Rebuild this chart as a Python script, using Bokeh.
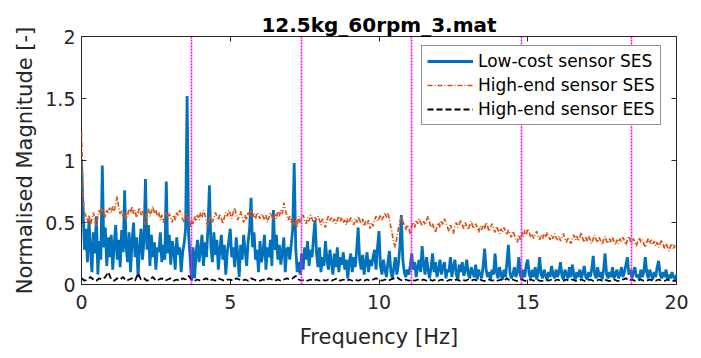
import numpy as np
from bokeh.plotting import figure
from bokeh.models import Range1d, LinearAxis, Legend, LegendItem, FixedTicker, Title
from bokeh.embed import file_html
from bokeh.resources import INLINE

# ---------------- data ----------------
title_text = "12.5kg_60rpm_3.mat"
x_label = "Frequency [Hz]"
y_label = "Normalised Magnitude [-]"
series_names = ["Low-cost sensor SES", "High-end sensor SES", "High-end sensor EES"]
x_ticks = [0, 5, 10, 15, 20]
y_ticks = [0, 0.5, 1, 1.5, 2]
y_tick_labels = {0: "0", 0.5: "0.5", 1: "1", 1.5: "1.5", 2: "2"}
harmonics = [3.695, 7.39, 11.085, 14.78, 18.475]

freq_fine = [i * 0.05 for i in range(401)]   # 0 .. 20 Hz, 0.05 Hz step
freq_coarse = [i * 0.1 for i in range(201)]  # 0 .. 20 Hz, 0.1 Hz step

low_cost_ses = [
    1.00, 0.62, 0.28, 0.45, 0.18, 0.52, 0.30, 0.10, 0.42, 0.25, 0.55, 0.08, 0.35, 0.20, 0.96, 0.30, 0.46, 0.15, 0.38, 0.22,
    0.40, 0.12, 0.33, 0.48, 0.20, 0.36, 0.14, 0.44, 0.26, 0.76, 0.30, 0.18, 0.42, 0.10, 0.35, 0.50, 0.22, 0.38, 0.06, 0.30,
    0.45, 0.20, 0.36, 0.85, 0.28, 0.48, 0.15, 0.40, 0.22, 0.34, 0.12, 0.30, 0.26, 0.42, 0.18, 0.32, 0.20, 0.83, 0.25, 0.40,
    0.16, 0.35, 0.28, 0.12, 0.38, 0.24, 0.30, 0.10, 0.26, 0.33, 0.45, 1.52, 0.40, 0.22, 0.03, 0.30, 0.05, 0.25, 0.36, 0.18,
    0.28, 0.40, 0.15, 0.34, 0.22, 0.45, 0.80, 0.30, 0.18, 0.42, 0.24, 0.36, 0.12, 0.28, 0.40, 0.20, 0.32, 0.08, 0.26, 0.35,
    0.45, 0.22, 0.30, 0.14, 0.38, 0.25, 0.06, 0.32, 0.20, 0.40, 0.28, 0.15, 0.34, 0.45, 0.70, 0.30, 0.42, 0.20, 0.28, 0.10,
    0.35, 0.18, 0.26, 0.40, 0.12, 0.30, 0.22, 0.36, 0.15, 0.60, 0.28, 0.40, 0.20, 0.32, 0.16, 0.26, 0.38, 0.10, 0.28, 0.30,
    0.20, 0.32, 0.45, 0.98, 0.30, 0.10, 0.18, 0.08, 0.25, 0.12, 0.30, 0.20, 0.35, 0.15, 0.28, 0.22, 0.38, 0.52, 0.25, 0.14,
    0.30, 0.10, 0.22, 0.15, 0.35, 0.20, 0.12, 0.28, 0.18, 0.08, 0.25, 0.14, 0.30, 0.10, 0.22, 0.16, 0.26, 0.12, 0.20, 0.05,
    0.18, 0.25, 0.10, 0.22, 0.14, 0.28, 0.46, 0.20, 0.12, 0.24, 0.08, 0.18, 0.26, 0.10, 0.20, 0.15, 0.22, 0.28, 0.12, 0.30,
    0.43, 0.15, 0.08, 0.20, 0.12, 0.06, 0.18, 0.27, 0.10, 0.05, 0.14, 0.22, 0.08, 0.16, 0.30, 0.56, 0.20, 0.10, 0.06, 0.12,
    0.08, 0.15, 0.25, 0.12, 0.18, 0.06, 0.14, 0.20, 0.10, 0.31, 0.16, 0.08, 0.22, 0.12, 0.05, 0.14, 0.25, 0.10, 0.18, 0.06,
    0.12, 0.20, 0.08, 0.15, 0.18, 0.05, 0.12, 0.10, 0.22, 0.06, 0.14, 0.20, 0.08, 0.04, 0.16, 0.10, 0.18, 0.07, 0.12, 0.20,
    0.08, 0.05, 0.14, 0.10, 0.06, 0.16, 0.04, 0.12, 0.08, 0.05, 0.15, 0.29, 0.12, 0.06, 0.10, 0.04, 0.12, 0.08, 0.25, 0.10,
    0.05, 0.14, 0.08, 0.04, 0.12, 0.06, 0.18, 0.32, 0.10, 0.05, 0.08, 0.14, 0.06, 0.10, 0.22, 0.08, 0.04, 0.12, 0.06, 0.16,
    0.20, 0.08, 0.05, 0.12, 0.06, 0.14, 0.04, 0.10, 0.22, 0.08, 0.05, 0.12, 0.07, 0.04, 0.10, 0.06, 0.15, 0.08, 0.05, 0.12,
    0.06, 0.10, 0.18, 0.07, 0.04, 0.12, 0.08, 0.05, 0.14, 0.06, 0.16, 0.08, 0.04, 0.10, 0.06, 0.12, 0.05, 0.09, 0.15, 0.06,
    0.04, 0.10, 0.06, 0.12, 0.23, 0.08, 0.05, 0.14, 0.06, 0.10, 0.04, 0.12, 0.25, 0.08, 0.05, 0.10, 0.06, 0.14, 0.05, 0.08,
    0.12, 0.05, 0.08, 0.14, 0.06, 0.10, 0.16, 0.22, 0.08, 0.12, 0.05, 0.10, 0.14, 0.06, 0.08, 0.04, 0.12, 0.06, 0.10, 0.22,
    0.10, 0.05, 0.12, 0.08, 0.04, 0.10, 0.06, 0.14, 0.19, 0.08, 0.05, 0.10, 0.06, 0.12, 0.04, 0.08, 0.05, 0.10, 0.06, 0.04,
    0.08,
]

high_end_ses = [
    1.23, 0.70, 0.58, 0.55, 0.50, 0.56, 0.48, 0.53, 0.58, 0.52, 0.47, 0.55, 0.60, 0.56, 0.62, 0.58, 0.54, 0.60, 0.57, 0.62,
    0.58, 0.63, 0.59, 0.65, 0.71, 0.62, 0.57, 0.60, 0.55, 0.58, 0.52, 0.56, 0.61, 0.58, 0.63, 0.57, 0.60, 0.54, 0.58, 0.62,
    0.56, 0.60, 0.54, 0.48, 0.57, 0.61, 0.55, 0.59, 0.63, 0.57, 0.60, 0.55, 0.58, 0.52, 0.56, 0.50, 0.55, 0.58, 0.53, 0.57,
    0.54, 0.50, 0.56, 0.52, 0.58, 0.55, 0.60, 0.57, 0.53, 0.50, 0.56, 0.58, 0.51, 0.47, 0.53, 0.49, 0.55, 0.51, 0.56, 0.52,
    0.58, 0.54, 0.60, 0.56, 0.50, 0.47, 0.53, 0.55, 0.50, 0.54, 0.58, 0.55, 0.52, 0.57, 0.53, 0.49, 0.54, 0.58, 0.55, 0.60,
    0.57, 0.53, 0.58, 0.62, 0.56, 0.52, 0.55, 0.59, 0.54, 0.50, 0.56, 0.52, 0.58, 0.55, 0.60, 0.54, 0.57, 0.53, 0.58, 0.56,
    0.53, 0.57, 0.55, 0.52, 0.56, 0.50, 0.54, 0.58, 0.55, 0.52, 0.57, 0.53, 0.59, 0.55, 0.60, 0.57, 0.66, 0.60, 0.56, 0.52,
    0.55, 0.50, 0.54, 0.48, 0.52, 0.46, 0.55, 0.50, 0.53, 0.56, 0.52, 0.49, 0.54, 0.51, 0.56, 0.53, 0.50, 0.54, 0.52, 0.55,
    0.52, 0.48, 0.53, 0.50, 0.46, 0.52, 0.55, 0.51, 0.54, 0.50, 0.53, 0.49, 0.52, 0.55, 0.51, 0.54, 0.50, 0.52, 0.48, 0.53,
    0.50, 0.54, 0.51, 0.48, 0.53, 0.50, 0.55, 0.52, 0.49, 0.53, 0.47, 0.51, 0.48, 0.52, 0.45, 0.50, 0.47, 0.52, 0.55, 0.51,
    0.53, 0.56, 0.52, 0.55, 0.58, 0.54, 0.58, 0.52, 0.46, 0.40, 0.33, 0.30, 0.38, 0.45, 0.50, 0.55, 0.51, 0.48, 0.44, 0.48,
    0.45, 0.41, 0.47, 0.50, 0.46, 0.52, 0.49, 0.53, 0.50, 0.47, 0.51, 0.48, 0.52, 0.55, 0.50, 0.46, 0.49, 0.45, 0.42, 0.47,
    0.50, 0.46, 0.51, 0.48, 0.53, 0.50, 0.46, 0.43, 0.48, 0.45, 0.41, 0.47, 0.50, 0.46, 0.49, 0.52, 0.48, 0.45, 0.50, 0.47,
    0.44, 0.48, 0.51, 0.47, 0.45, 0.49, 0.46, 0.42, 0.47, 0.44, 0.48, 0.45, 0.50, 0.47, 0.43, 0.46, 0.49, 0.45, 0.42, 0.47,
    0.44, 0.41, 0.45, 0.42, 0.46, 0.43, 0.40, 0.44, 0.41, 0.38, 0.43, 0.40, 0.37, 0.34, 0.40, 0.36, 0.42, 0.38, 0.44, 0.40,
    0.45, 0.42, 0.38, 0.41, 0.37, 0.40, 0.43, 0.39, 0.36, 0.40, 0.37, 0.41, 0.38, 0.42, 0.39, 0.36, 0.40, 0.37, 0.41, 0.38,
    0.36, 0.39, 0.35, 0.38, 0.41, 0.37, 0.34, 0.38, 0.36, 0.33, 0.37, 0.40, 0.36, 0.39, 0.35, 0.38, 0.42, 0.37, 0.34, 0.38,
    0.35, 0.39, 0.36, 0.33, 0.37, 0.40, 0.36, 0.34, 0.38, 0.35, 0.32, 0.36, 0.39, 0.35, 0.33, 0.37, 0.34, 0.38, 0.35, 0.32,
    0.36, 0.33, 0.37, 0.34, 0.38, 0.35, 0.32, 0.36, 0.39, 0.35, 0.33, 0.37, 0.34, 0.31, 0.35, 0.38, 0.34, 0.36, 0.33, 0.30,
    0.34, 0.37, 0.33, 0.36, 0.32, 0.35, 0.31, 0.34, 0.30, 0.33, 0.36, 0.32, 0.29, 0.33, 0.30, 0.27, 0.31, 0.33, 0.29, 0.32,
    0.30,
]

high_end_ees = [
    0.05, 0.03, 0.04, 0.06, 0.04, 0.03, 0.05, 0.04, 0.06, 0.10,
    0.04, 0.03, 0.05, 0.04, 0.06, 0.03, 0.04, 0.05, 0.03, 0.09,
    0.04, 0.05, 0.03, 0.04, 0.06, 0.03, 0.04, 0.05, 0.03, 0.04,
    0.05, 0.03, 0.04, 0.03, 0.05, 0.04, 0.07, 0.04, 0.03, 0.04,
    0.03, 0.04, 0.05, 0.03, 0.04, 0.03, 0.05, 0.04, 0.03, 0.04,
    0.04, 0.03, 0.05, 0.04, 0.03, 0.04, 0.03, 0.05, 0.04, 0.03,
    0.03, 0.04, 0.03, 0.05, 0.04, 0.03, 0.04, 0.03, 0.04, 0.05,
    0.04, 0.05, 0.07, 0.04, 0.03, 0.04, 0.03, 0.04, 0.03, 0.04,
    0.03, 0.04, 0.03, 0.04, 0.03, 0.04, 0.05, 0.03, 0.04, 0.03,
    0.04, 0.03, 0.04, 0.03, 0.04, 0.03, 0.04, 0.03, 0.04, 0.05,
    0.04, 0.03, 0.04, 0.03, 0.04, 0.05, 0.06, 0.04, 0.03, 0.04,
    0.03, 0.04, 0.03, 0.04, 0.03, 0.04, 0.03, 0.04, 0.03, 0.04,
    0.03, 0.04, 0.03, 0.03, 0.04, 0.03, 0.04, 0.03, 0.04, 0.03,
    0.04, 0.03, 0.04, 0.03, 0.04, 0.03, 0.03, 0.04, 0.03, 0.04,
    0.03, 0.04, 0.03, 0.05, 0.03, 0.04, 0.03, 0.03, 0.04, 0.03,
    0.03, 0.04, 0.03, 0.04, 0.03, 0.03, 0.04, 0.03, 0.04, 0.03,
    0.04, 0.03, 0.03, 0.04, 0.03, 0.04, 0.03, 0.03, 0.04, 0.03,
    0.03, 0.04, 0.03, 0.03, 0.04, 0.03, 0.04, 0.03, 0.03, 0.04,
    0.03, 0.03, 0.04, 0.05, 0.03, 0.04, 0.03, 0.03, 0.04, 0.03,
    0.03, 0.04, 0.03, 0.03, 0.04, 0.03, 0.03, 0.04, 0.03, 0.03,
    0.03,
]

# ---------------- figure ----------------
FONT = "DejaVu Sans"
INK = "#262626"

p = figure(width=701, height=358, output_backend="svg", toolbar_location=None,
           x_range=Range1d(0, 20), y_range=Range1d(0, 2),
           min_border_left=81, min_border_right=25, min_border_top=36, min_border_bottom=74)
p.title.visible = False
p.xgrid.visible = False
p.ygrid.visible = False
p.outline_line_color = INK
p.outline_line_width = 1
p.background_fill_color = "white"
p.border_fill_color = "white"

def style_axis(ax, show_labels=True):
    ax.axis_line_color = None
    ax.major_tick_in = 5
    ax.major_tick_out = 0
    ax.major_tick_line_color = INK
    ax.minor_tick_line_color = None
    ax.major_label_text_font = FONT
    ax.major_label_text_font_size = "19px" if show_labels else "0px"
    ax.major_label_text_color = INK if show_labels else None
    ax.axis_label_text_font = FONT
    ax.axis_label_text_font_style = "normal"
    ax.axis_label_text_color = INK

xa = p.xaxis[0]
ya = p.yaxis[0]
xa.ticker = FixedTicker(ticks=x_ticks)
ya.ticker = FixedTicker(ticks=y_ticks)
ya.major_label_overrides = y_tick_labels
style_axis(xa)
style_axis(ya)
xa.axis_label = x_label
ya.axis_label = y_label
xa.axis_label_text_font_size = "21px"
ya.axis_label_text_font_size = "21px"
xa.major_label_standoff = 10
ya.major_label_standoff = 6
xa.axis_label_standoff = 13
ya.axis_label_standoff = 5

top_ax = LinearAxis(ticker=FixedTicker(ticks=x_ticks))
right_ax = LinearAxis(ticker=FixedTicker(ticks=y_ticks))
style_axis(top_ax, False)
style_axis(right_ax, False)
top_ax.major_label_standoff = 0
right_ax.major_label_standoff = 0
p.add_layout(top_ax, "above")
p.add_layout(right_ax, "right")

t = Title(text=title_text, text_font=FONT, text_font_size="20px", text_font_style="bold",
          text_color="black", align="center", standoff=0)
p.add_layout(t, "above")

r_blue = p.line(freq_fine, low_cost_ses, line_color="#0072BD", line_width=2.8)
r_orange = p.line(freq_fine, high_end_ses, line_color="#D95319", line_width=1.7, line_dash="5 2 1 2")
r_black = p.line(freq_coarse, high_end_ees, line_color="black", line_width=1.8, line_dash="6 3")
p.vspan(x=harmonics, line_color="#FF00FF", line_width=1.6, line_dash="2 1")

legend = Legend(items=[LegendItem(label=series_names[0], renderers=[r_blue]),
                       LegendItem(label=series_names[1], renderers=[r_orange]),
                       LegendItem(label=series_names[2], renderers=[r_black])],
                location=(340, 159))
legend.label_text_font = FONT
legend.label_text_font_size = "17px"
legend.label_text_color = "black"
legend.glyph_width = 46
legend.glyph_height = 20
legend.label_height = 20
legend.spacing = 4
legend.padding = 5
legend.margin = 0
legend.label_standoff = 5
legend.border_line_color = INK
legend.border_line_width = 1
legend.background_fill_alpha = 1
p.add_layout(legend)

open("out.html", "w").write(file_html(p, INLINE))
